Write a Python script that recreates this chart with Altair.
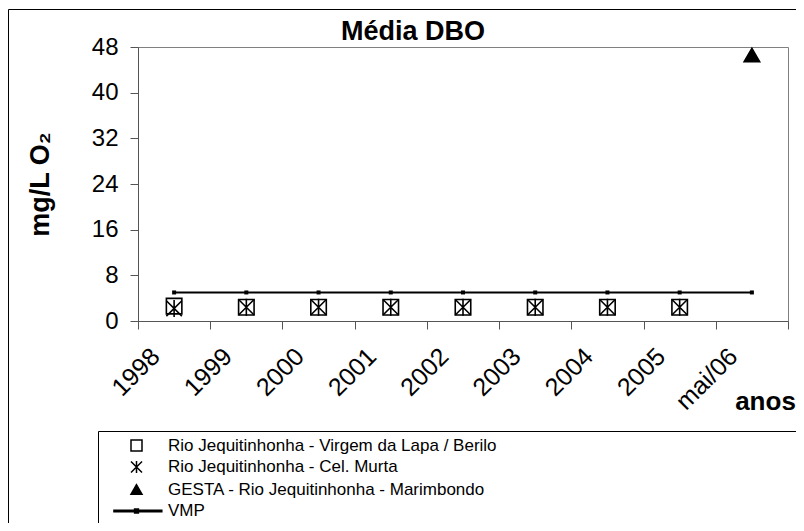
import altair as alt
import pandas as pd

anos = ["1998", "1999", "2000", "2001", "2002", "2003", "2004", "2005", "mai/06"]
series = [
    "Rio Jequitinhonha - Virgem da Lapa / Berilo",
    "Rio Jequitinhonha - Cel. Murta",
    "GESTA - Rio Jequitinhonha - Marimbondo",
    "VMP",
]
virgem = [2.6, 2.4, 2.4, 2.4, 2.4, 2.4, 2.4, 2.4, None]
celmurta = [2.2, 2.4, 2.4, 2.4, 2.4, 2.4, 2.4, 2.4, None]
gesta = [None, None, None, None, None, None, None, None, 46.6]
vmp = [5, 5, 5, 5, 5, 5, 5, 5, 5]
y_ticks = [0, 8, 16, 24, 32, 40, 48]
titulo = "Média DBO"

rows = []
for name, vals in zip(series[:3], [virgem, celmurta, gesta]):
    for a, v in zip(anos, vals):
        if v is not None:
            rows.append({"serie": name, "ano": a, "valor": v})
pts = pd.DataFrame(rows)
vmp_df = pd.DataFrame({"ano": anos, "valor": vmp, "serie": "VMP"})

FONT = "Liberation Sans"
ast_path = "M-1,-1L1,1M-1,1L1,-1M0,-1.1L0,1.1"
vmp_path = "M-4.1,-0.12H4.6V0.12H-4.1Z M-0.35,-0.35H0.35V0.35H-0.35Z"

xscale = alt.Scale(domain=anos, paddingInner=0, paddingOuter=0)
yscale = alt.Scale(domain=[0, 48], nice=False)

x_axis = alt.Axis(
    title="anos", labelAngle=-45, labelAlign="right", labelBaseline="middle",
    labelFontSize=25, labelPadding=23, labelOffset=-19, tickBand="extent", tickSize=8,
    titleFontSize=26, titleFontWeight="bold", titleX=627, titleY=88,
    titleAlign="center", titleBaseline="alphabetic", grid=False,
)
y_axis = alt.Axis(
    title="mg/L O₂", values=y_ticks, labelFontSize=24, labelPadding=12,
    tickSize=8, titleFontSize=27, titleFontWeight="bold", titleX=-98,
    titleY=137, titleAlign="center", titleBaseline="middle", titleAngle=-90,
    grid=False,
)

X = alt.X("ano:N", sort=anos, scale=xscale, axis=x_axis, bandPosition=0.5)
Y = alt.Y("valor:Q", scale=yscale, axis=y_axis)

frame = alt.Chart(alt.Data(values=[{"k": 1}])).mark_rect(
    fill="transparent", stroke="black", strokeWidth=1
).encode(
    x=alt.value(-129.5), x2=alt.value(900), y=alt.value(-37.5), y2=alt.value(700)
)
legbox = alt.Chart(alt.Data(values=[{"k": 1}])).mark_rect(
    fill="transparent", stroke="black", strokeWidth=1
).encode(
    x=alt.value(-39.5), x2=alt.value(900), y=alt.value(384.5), y2=alt.value(700)
)
title_mark = alt.Chart(alt.Data(values=[{"t": titulo}])).mark_text(
    font=FONT, fontSize=27, fontWeight="bold", color="black",
    align="center", baseline="alphabetic",
).encode(text="t:N", x=alt.value(275), y=alt.value(-7))

vline = alt.Chart(vmp_df).mark_line(color="black", strokeWidth=2).encode(x=X, y=Y)
vmark = alt.Chart(vmp_df).mark_square(color="black", size=16, opacity=1).encode(x=X, y=Y)

leg = alt.Legend(
    title=None, orient="none", legendX=-10, legendY=390, symbolSize=121,
    symbolStrokeColor="black", symbolStrokeWidth=1.5, labelFontSize=17,
    labelOffset=23, rowPadding=3.5, padding=0, labelLimit=0, labelColor="black",
)
points = alt.Chart(pts).mark_point(strokeWidth=1.6, size=240, opacity=1).encode(
    x=X, y=Y,
    shape=alt.Shape("serie:N", scale=alt.Scale(domain=series, range=["square", ast_path, "triangle-up", vmp_path]), legend=leg),
    fill=alt.Fill("serie:N", scale=alt.Scale(domain=series, range=["transparent", "transparent", "black", "black"]), legend=leg),
    stroke=alt.Stroke("serie:N", scale=alt.Scale(domain=series, range=["black", "black", "black", "black"]), legend=leg),
)

chart = alt.layer(frame, legbox, title_mark, vline, vmark, points).properties(
    width=650, height=274,
    autosize=alt.AutoSizeParams(type="none"),
    padding={"left": 130, "top": 39, "right": 8, "bottom": 202},
).configure(font=FONT).configure_view(
    stroke="#808080", strokeWidth=1
).configure_axis(
    domainColor="#555555", tickColor="#555555", labelColor="black", titleColor="black",
    labelFont=FONT, titleFont=FONT,
).configure_legend(labelFont=FONT)

chart.save("out.html", embed_options={"renderer": "svg", "actions": False})
